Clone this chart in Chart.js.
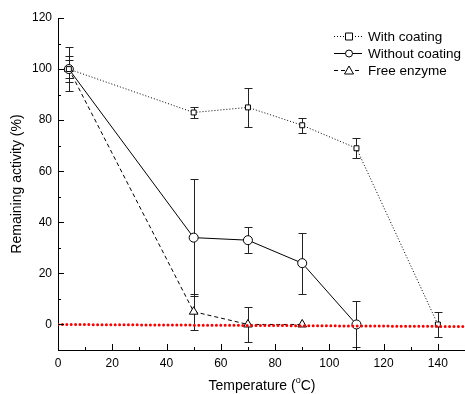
<!DOCTYPE html>
<html>
<head>
<meta charset="utf-8">
<script src="https://cdn.jsdelivr.net/npm/chart.js@4.4.1/dist/chart.umd.min.js"></script>
<style>
html,body{margin:0;padding:0;background:#fff;}
#wrap{width:465px;height:394px;position:relative;}
</style>
</head>
<body>
<div id="wrap"><canvas id="chart" width="465" height="394"></canvas></div>
<script>
// data
const temps = [4, 50, 70, 90, 110, 140];
const withCoating = [100, 83, 85, 78, 69, 0];
const withCoatingErr = [8.5, 2, 7.5, 3, 4, 5];
const tempsNo = [4, 50, 70, 90, 110];
const withoutCoating = [100, 34, 33, 24, 0];
const withoutCoatingErr = [3.5, 23, 5, 12, 9];
const tempsFree = [4, 50, 70, 90];
const freeEnzyme = [100, 5, 0, 0];
const freeEnzymeErr = [5, 7, 7, 0];
const refLineX = [0, 150];
const refLineY = [0, -0.8];
const xTicks = [0, 20, 40, 60, 80, 100, 120, 140];
const yTicks = [0, 20, 40, 60, 80, 100, 120];
const legendLabels = ['With coating', 'Without coating', 'Free enzyme'];

const FONT = '"Liberation Sans", Arial, sans-serif';
const pts = (xs, ys) => xs.map((x,i)=>({x, y: ys[i]}));

const errs = [withCoatingErr, withoutCoatingErr, freeEnzymeErr];

const errorBars = {
  id:'errorBars',
  beforeDatasetsDraw(chart){
    const ctx = chart.ctx, xs = chart.scales.x, ys = chart.scales.y;
    ctx.save();
    ctx.strokeStyle = '#222'; ctx.lineWidth = 1;
    errs.forEach((e,di)=>{
      const ds = chart.data.datasets[di+1];
      ds.data.forEach((p,i)=>{
        if(!e[i]) return;
        const px = Math.round(xs.getPixelForValue(p.x))+0.5;
        const top = Math.round(ys.getPixelForValue(p.y+e[i]))+0.5;
        const bot = Math.round(ys.getPixelForValue(p.y-e[i]))+0.5;
        ctx.beginPath();
        ctx.moveTo(px, top); ctx.lineTo(px, bot);
        ctx.moveTo(px-4, top); ctx.lineTo(px+4, top);
        ctx.moveTo(px-4, bot); ctx.lineTo(px+4, bot);
        ctx.stroke();
      });
    });
    ctx.restore();
  }
};

const decor = {
  id:'decor',
  afterDraw(chart){
    const ctx = chart.ctx, xs = chart.scales.x, ys = chart.scales.y, a = chart.chartArea;
    ctx.save();
    ctx.strokeStyle = '#000'; ctx.lineWidth = 1;
    // inward ticks
    ctx.beginPath();
    for(let v=0; v<=150; v+=10){
      const px = Math.round(xs.getPixelForValue(v))+0.5;
      const len = v%20===0 ? 6 : 3;
      ctx.moveTo(px, a.bottom); ctx.lineTo(px, a.bottom-len);
    }
    for(let v=-10; v<=120; v+=10){
      const py = Math.round(ys.getPixelForValue(v))+0.5;
      const len = v%20===0 ? 6 : 3;
      ctx.moveTo(a.left, py); ctx.lineTo(a.left+len, py);
    }
    ctx.stroke();
    // axis titles
    ctx.fillStyle = '#000';
    ctx.textBaseline = 'alphabetic';
    const t1 = 'Temperature (', t2 = 'o', t3 = 'C)';
    ctx.font = '14px '+FONT;
    const w1 = ctx.measureText(t1).width, w3 = ctx.measureText(t3).width;
    ctx.font = '9px '+FONT;
    const w2 = ctx.measureText(t2).width;
    let x0 = 262 - (w1+w2+w3)/2;
    ctx.font = '14px '+FONT; ctx.textAlign='left';
    ctx.fillText(t1, x0, 390);
    ctx.font = '9px '+FONT;
    ctx.fillText(t2, x0+w1, 383);
    ctx.font = '14px '+FONT;
    ctx.fillText(t3, x0+w1+w2, 390);
    ctx.translate(21, 184); ctx.rotate(-Math.PI/2);
    ctx.textAlign='center';
    ctx.fillText('Remaining activity (%)', 0, 0);
    ctx.restore();
    // legend
    ctx.save();
    const rows = [36, 53, 70];
    const styles = chart.data.datasets.slice(1);
    rows.forEach((ry,i)=>{
      const ds = styles[i];
      ctx.strokeStyle = '#000'; ctx.lineWidth = 1;
      ctx.setLineDash(ds.borderDash || []);
      ctx.beginPath(); ctx.moveTo(334, ry+0.5); ctx.lineTo(362, ry+0.5); ctx.stroke();
      ctx.setLineDash([]);
      ctx.fillStyle = '#fff';
      ctx.beginPath();
      const cx = 349;
      if(ds.pointStyle==='rect'){ ctx.rect(cx-3.5, ry-3, 7, 7); }
      else if(ds.pointStyle==='circle'){ ctx.arc(cx, ry+0.5, 3.5, 0, Math.PI*2); }
      else { ctx.moveTo(cx, ry-4); ctx.lineTo(cx+4.5, ry+4); ctx.lineTo(cx-4.5, ry+4); ctx.closePath(); }
      ctx.fill(); ctx.stroke();
      ctx.fillStyle = '#000'; ctx.font = '13.5px '+FONT;
      ctx.textBaseline = 'middle'; ctx.textAlign = 'left';
      ctx.fillText(legendLabels[i], 368, ry+1);
    });
    ctx.restore();
  }
};

new Chart(document.getElementById('chart'), {
  type:'scatter',
  data:{datasets:[
    {data: pts(refLineX, refLineY), showLine:true, borderColor:'#ff0000', borderWidth:3,
     borderDash:[0,4.4], borderCapStyle:'round', pointRadius:0, order:0},
    {label:legendLabels[0], data: pts(temps, withCoating), showLine:true, borderColor:'#000', borderWidth:1,
     borderDash:[1,2], pointStyle:'rect', pointRadius:3.5, pointBackgroundColor:'#fff', pointBorderColor:'#000', pointBorderWidth:1, order:1},
    {label:legendLabels[1], data: pts(tempsNo, withoutCoating), showLine:true, borderColor:'#000', borderWidth:1,
     pointStyle:'circle', pointRadius:4.5, pointBackgroundColor:'#fff', pointBorderColor:'#000', pointBorderWidth:1, order:2},
    {label:legendLabels[2], data: pts(tempsFree, freeEnzyme), showLine:true, borderColor:'#000', borderWidth:1,
     borderDash:[4,3], pointStyle:'triangle', pointRadius:5, pointBackgroundColor:'#fff', pointBorderColor:'#000', pointBorderWidth:1, order:3}
  ]},
  options:{
    responsive:false, animation:false,
    layout:{autoPadding:false, padding:{top:18, right:0, left:0, bottom:0}},
    plugins:{legend:{display:false}, tooltip:{enabled:false}},
    scales:{
      x:{type:'linear', min:0, max:150,
        afterBuildTicks: s => { s.ticks = xTicks.map(v=>({value:v})); },
        afterFit: s => { s.height = 44; s.paddingLeft = 0; s.paddingRight = 0; },
        grid:{drawOnChartArea:false, drawTicks:false},
        border:{color:'#000', width:1},
        ticks:{color:'#000', padding:6, font:{family:FONT, size:12}, maxRotation:0}},
      y:{type:'linear', min:-10, max:120,
        afterBuildTicks: s => { s.ticks = yTicks.map(v=>({value:v})); },
        afterFit: s => { s.width = 58; s.paddingTop = 0; s.paddingBottom = 0; },
        grid:{drawOnChartArea:false, drawTicks:false},
        border:{color:'#000', width:1},
        ticks:{color:'#000', padding:6, font:{family:FONT, size:12}}}
    }
  },
  plugins:[errorBars, decor]
});
</script>
</body>
</html>
